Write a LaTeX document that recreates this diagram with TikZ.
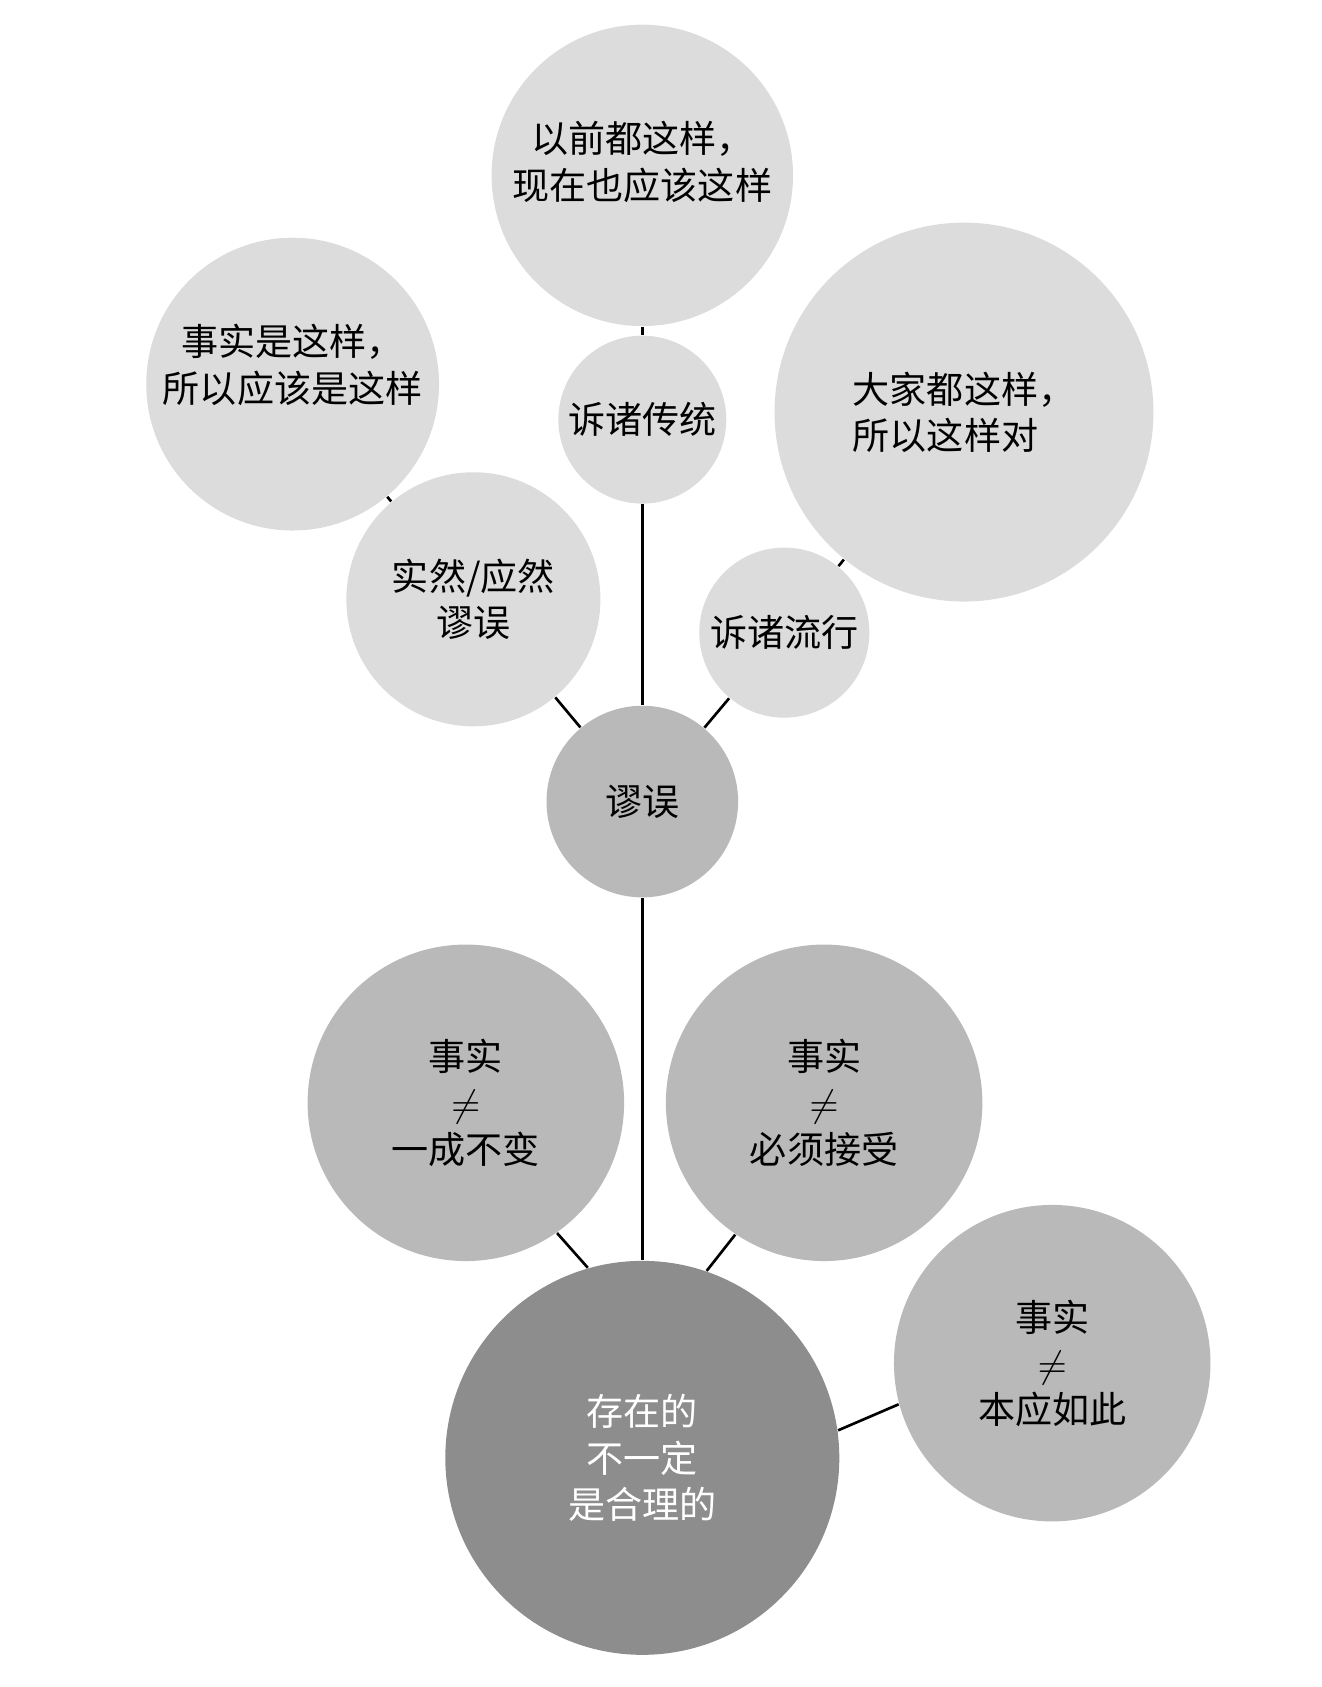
\documentclass[tikz,border=0pt]{standalone}
\usepackage{fontspec}
\setmainfont{Noto Sans CJK SC}
\usepackage{tikz}

\definecolor{lightbubble}{HTML}{DCDCDC}
\definecolor{midbubble}{HTML}{BAB9BA}
\definecolor{darkbubble}{HTML}{8E8D8E}

\begin{document}
\begin{tikzpicture}[x=0.01cm, y=-0.01cm,
    bubble/.style={circle, inner sep=0pt, minimum size=#1, align=center,
        font=\fontsize{9.8}{12.2}\selectfont},
    link/.style={draw=black, line width=0.7pt}]

    \useasboundingbox (0,0) rectangle (1228,1568);

    % upper branch: fallacies
    \node[bubble=2.80cm, fill=lightbubble, text depth=8pt] (past) at (597,163) {以前都这样，\\现在也应该这样};
    \node[bubble=1.56cm, fill=lightbubble] (tradition) at (597,390) {诉诸传统};
    \node[bubble=2.72cm, fill=lightbubble, text depth=11pt] (factis) at (272,357) {事实是这样，\\所以应该是这样};
    \node[bubble=2.36cm, fill=lightbubble] (isought) at (440,557) {实然/应然\\谬误};
    \node[bubble=3.52cm, fill=lightbubble, align=left] (everyone) at (896,383) {大家都这样，\\所以这样对};
    \node[bubble=1.58cm, fill=lightbubble] (popular) at (729,588) {诉诸流行};
    \node[bubble=1.78cm, fill=midbubble] (fallacy) at (597,745) {谬误};

    % lower branch: facts
    \node[bubble=2.94cm, fill=midbubble] (unchanging) at (433,1025) {事实\\$\neq$\\一成不变};
    \node[bubble=2.94cm, fill=midbubble] (accept) at (766,1025) {事实\\$\neq$\\必须接受};
    \node[bubble=2.94cm, fill=midbubble] (ought) at (978,1267) {事实\\$\neq$\\本应如此};
    \node[bubble=3.66cm, fill=darkbubble, text=white] (root) at (597,1355) {存在的\\不一定\\是合理的};

    \draw[link] (past) -- (tradition);
    \draw[link] (tradition) -- (fallacy);
    \draw[link] (factis) -- (isought);
    \draw[link] (isought) -- (fallacy);
    \draw[link] (everyone) -- (popular);
    \draw[link] (popular) -- (fallacy);
    \draw[link] (fallacy) -- (root);
    \draw[link] (unchanging.-55) -- (root.106);
    \draw[link] (accept.236) -- (root.71);
    \draw[link] (root.8) -- (ought.195);
\end{tikzpicture}
\end{document}
